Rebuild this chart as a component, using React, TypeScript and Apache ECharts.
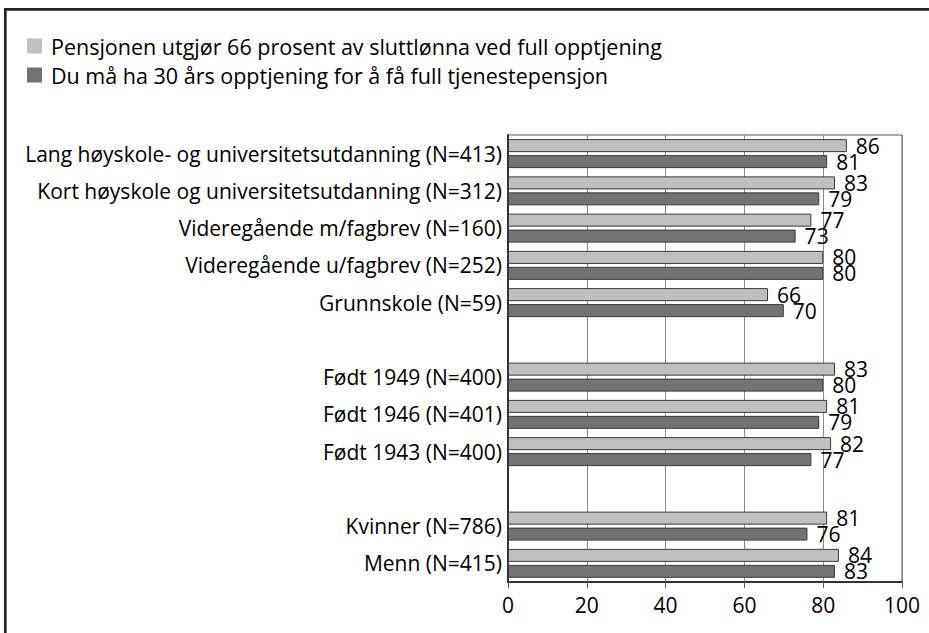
import React, { useEffect, useRef } from "react";
import * as echarts from "echarts";

const categories = [
  "Lang høyskole- og universitetsutdanning (N=413)",
  "Kort høyskole og universitetsutdanning (N=312)",
  "Videregående m/fagbrev (N=160)",
  "Videregående u/fagbrev (N=252)",
  "Grunnskole (N=59)",
  " ",
  "Født 1949 (N=400)",
  "Født 1946 (N=401)",
  "Født 1943 (N=400)",
  "  ",
  "Kvinner (N=786)",
  "Menn (N=415)",
];

const seriesNames = [
  "Pensjonen utgjør 66 prosent av sluttlønna ved full opptjening",
  "Du må ha 30 års opptjening for å få full tjenestepensjon",
];

const pensjonValues = [86, 83, 77, 80, 66, null, 83, 81, 82, null, 81, 84];
const opptjeningValues = [81, 79, 73, 80, 70, null, 80, 79, 77, null, 76, 83];

const xTicks = { min: 0, max: 100, interval: 20 };

const FONT = "Open Sans";

export default function App() {
  const ref = useRef<HTMLDivElement>(null);
  useEffect(() => {
    if (!ref.current) return;
    const chart = echarts.init(ref.current, undefined, { renderer: "svg" });
    const barLabel = {
      show: true,
      position: "right",
      distance: 9,
      color: "#000",
      fontFamily: FONT,
      fontSize: 21,
      lineHeight: 15,
    };
    chart.setOption({
      animation: false,
      backgroundColor: "#fff",
      textStyle: { fontFamily: FONT },
      legend: {
        orient: "vertical",
        left: 27,
        top: 35,
        padding: 0,
        itemWidth: 15,
        itemHeight: 15,
        itemGap: 7,
        icon: "rect",
        selectedMode: false,
        itemStyle: { borderWidth: 0 },
        textStyle: {
          fontFamily: FONT,
          fontSize: 21.5,
          color: "#000",
          lineHeight: 20,
          padding: [0, 0, 0, 4],
        },
        data: seriesNames,
      },
      grid: {
        left: 508,
        top: 135,
        right: 27,
        bottom: 51,
        show: true,
        borderColor: "#555",
        borderWidth: 1,
        backgroundColor: "transparent",
      },
      xAxis: {
        type: "value",
        min: xTicks.min,
        max: xTicks.max,
        interval: xTicks.interval,
        axisLine: { show: true, lineStyle: { color: "#333", width: 2 } },
        axisTick: { show: true, length: 6, lineStyle: { color: "#555" } },
        axisLabel: {
          color: "#000",
          fontFamily: FONT,
          fontSize: 21,
          margin: 12,
        },
        splitLine: { show: true, lineStyle: { color: "#8a8a8a", width: 1 } },
      },
      yAxis: {
        type: "category",
        inverse: true,
        data: categories,
        axisLine: { show: true, lineStyle: { color: "#333", width: 2 } },
        axisTick: { show: false },
        axisLabel: {
          color: "#000",
          fontFamily: FONT,
          fontSize: 21,
          margin: 6,
        },
        splitLine: { show: false },
      },
      series: [
        {
          name: seriesNames[0],
          type: "bar",
          data: pensjonValues,
          barWidth: 13,
          barGap: "23%",
          itemStyle: { color: "#c0c0c0", borderColor: "#3a3a3a", borderWidth: 1 },
          label: barLabel,
        },
        {
          name: seriesNames[1],
          type: "bar",
          data: opptjeningValues,
          barWidth: 13,
          barGap: "23%",
          itemStyle: { color: "#737373", borderColor: "#3a3a3a", borderWidth: 1 },
          label: barLabel,
        },
      ],
      graphic: [
        {
          type: "rect",
          silent: true,
          shape: { x: 5.3, y: 9.3, width: 960, height: 660 },
          style: { fill: "none", stroke: "#222", lineWidth: 2.7 },
        },
      ],
    });
    return () => chart.dispose();
  }, []);
  return (
    <div
      ref={ref}
      style={{ position: "fixed", left: 0, top: 0, width: 929, height: 633 }}
    />
  );
}
